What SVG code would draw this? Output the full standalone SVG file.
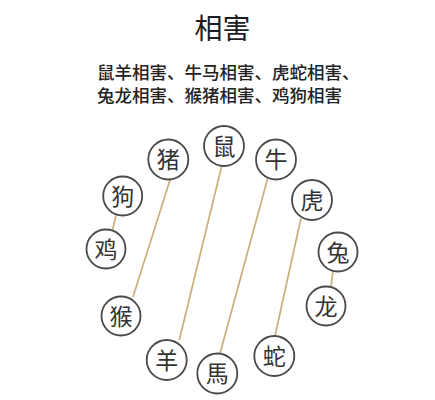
<svg xmlns="http://www.w3.org/2000/svg" width="435" height="400" viewBox="0 0 435 400">
<style>
.title{font-family:"Noto Sans CJK SC","Noto Sans",sans-serif;font-size:28px;font-weight:400;fill:#1e1e1e;text-anchor:middle}
.sub{font-family:"Noto Sans CJK SC","Noto Sans",sans-serif;font-size:17.5px;font-weight:500;fill:#222222}
.node circle{fill:#ffffff;stroke:#4a4a4a;stroke-width:1.8}
.node text{font-family:"Noto Sans CJK SC","Noto Sans",sans-serif;font-size:23px;font-weight:400;fill:#333333;text-anchor:middle}
.conn line{stroke:#c9b07a;stroke-width:1.7}
</style>
<rect width="435" height="400" fill="#ffffff"/>
<text class="title" x="222.5" y="38.5">相害</text>
<text class="sub" x="97" y="79">鼠羊相害、牛马相害、虎蛇相害、</text>
<text class="sub" x="97" y="102">兔龙相害、猴猪相害、鸡狗相害</text>
<g id="connectors" class="conn">
<line x1="170" y1="180" x2="133" y2="297"/>
<line x1="221.7" y1="166" x2="179.3" y2="340"/>
<line x1="267.7" y1="178.3" x2="220" y2="353.5"/>
<line x1="301" y1="218" x2="275" y2="336"/>
<line x1="116" y1="215.5" x2="112.7" y2="229.5"/>
<line x1="333" y1="271" x2="331" y2="286.5"/>
</g>
<g id="node-zhu" class="node"><circle cx="168.3" cy="159.5" r="20"/><text x="168.3" y="168">猪</text></g>
<g id="node-shu" class="node"><circle cx="224" cy="146" r="20"/><text x="224" y="154.5">鼠</text></g>
<g id="node-niu" class="node"><circle cx="276" cy="159.5" r="20"/><text x="276" y="168">牛</text></g>
<g id="node-gou" class="node"><circle cx="122.7" cy="196" r="19.5"/><text x="122.7" y="204.5">狗</text></g>
<g id="node-hu" class="node"><circle cx="312" cy="200" r="20"/><text x="312" y="208.5">虎</text></g>
<g id="node-ji" class="node"><circle cx="106" cy="249" r="19.5"/><text x="106" y="257.5">鸡</text></g>
<g id="node-tu" class="node"><circle cx="338" cy="252" r="19.5"/><text x="338" y="260.5">兔</text></g>
<g id="node-long" class="node"><circle cx="326" cy="306" r="19.5"/><text x="326" y="314.5">龙</text></g>
<g id="node-hou" class="node"><circle cx="121" cy="316" r="19.5"/><text x="121" y="324.5">猴</text></g>
<g id="node-yang" class="node"><circle cx="166.7" cy="360" r="20"/><text x="166.7" y="368.5">羊</text></g>
<g id="node-ma" class="node"><circle cx="217.3" cy="373.5" r="20"/><text x="217.3" y="382">馬</text></g>
<g id="node-she" class="node"><circle cx="274.3" cy="356" r="20"/><text x="274.3" y="364.5">蛇</text></g>
</svg>
